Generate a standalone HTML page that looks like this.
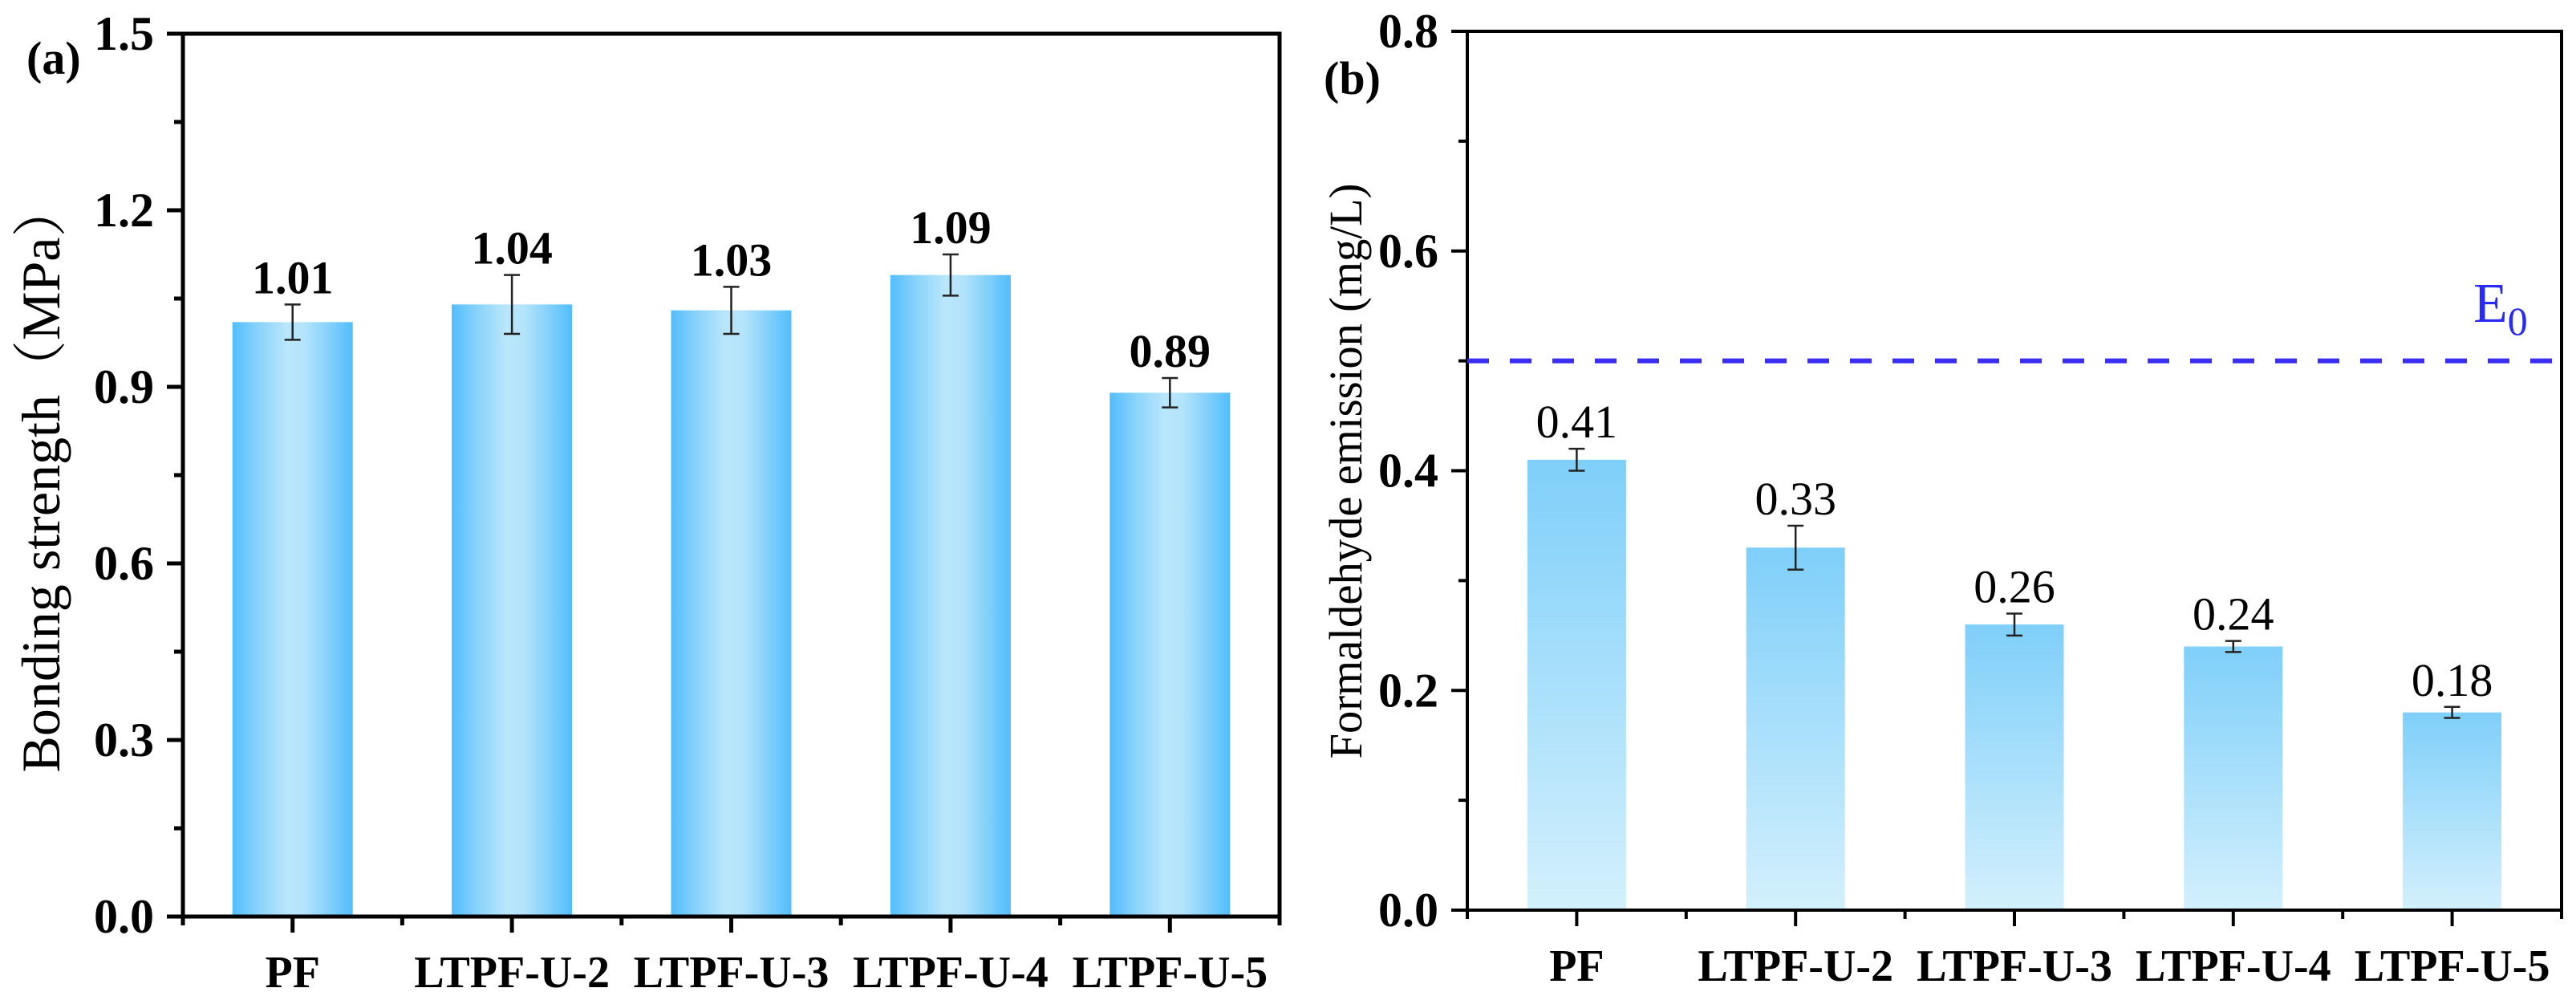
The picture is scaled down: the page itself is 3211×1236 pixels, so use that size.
<!DOCTYPE html>
<html><head><meta charset="utf-8"><style>
html,body{margin:0;padding:0;background:#fff;}
svg{display:block;}
svg text{font-family:"Liberation Serif","Times New Roman",Times,"Noto Serif CJK SC",serif;}
</style></head><body>
<svg id="c" width="3211" height="1236" viewBox="0 0 3211 1236" xmlns="http://www.w3.org/2000/svg">
<defs>
<linearGradient id="ga" x1="0" y1="0" x2="1" y2="0">
<stop offset="0" stop-color="#52bdfd"/><stop offset="0.2" stop-color="#86d2fb"/><stop offset="0.45" stop-color="#b9e6fb"/><stop offset="0.6" stop-color="#b4e4fb"/><stop offset="0.82" stop-color="#7fcffb"/><stop offset="1" stop-color="#52bdfd"/>
</linearGradient>
<linearGradient id="gb" x1="0" y1="0" x2="0" y2="1">
<stop offset="0" stop-color="#7fcffa"/><stop offset="1" stop-color="#d3f0fc"/>
</linearGradient>
</defs>
<g id="pa"></g>
<g id="pb"></g>
</svg>
<script>
const categories = ["PF","LTPF-U-2","LTPF-U-3","LTPF-U-4","LTPF-U-5"];
const strengthValues = [1.01,1.04,1.03,1.09,0.89];
const strengthErrLow = [0.98,0.99,0.99,1.055,0.865];
const strengthErrHigh = [1.04,1.09,1.07,1.125,0.915];
const strengthTicks = [0.0,0.3,0.6,0.9,1.2,1.5];
const emissionValues = [0.41,0.33,0.26,0.24,0.18];
const emissionErrLow = [0.40,0.31,0.25,0.235,0.175];
const emissionErrHigh = [0.42,0.35,0.27,0.245,0.185];
const emissionTicks = [0.0,0.2,0.4,0.6,0.8];
const e0Limit = [0.5];

const NS="http://www.w3.org/2000/svg";
function mk(parent,tag,attrs,text){const e=document.createElementNS(NS,tag);for(const k in attrs)e.setAttribute(k,attrs[k]);if(text!==undefined)e.textContent=text;parent.appendChild(e);return e;}

function panel(g,cfg){
  const {L,R,T,B,ymax,ticks,vals,lo,hi,fill,bold,lw,minorStep}=cfg;
  const y=v=>B-(v/ymax)*(B-T);
  const step=(R-L)/categories.length;
  const x=i=>L+step*(i+0.5);
  const bw=cfg.bw;
  vals.forEach((v,i)=>{
    const r=mk(g,'rect',{x:x(i)-bw/2,y:y(v),width:bw,height:y(0)-y(v),fill:fill});
    
    
    const eb=mk(g,'path',{d:`M${x(i)},${y(lo[i])}V${y(hi[i])}M${x(i)-10},${y(lo[i])}H${x(i)+10}M${x(i)-10},${y(hi[i])}H${x(i)+10}`,stroke:'#222','stroke-width':2.5,fill:'none'});
    
    
    const t=mk(g,'text',{x:x(i),y:y(hi[i])-14,'text-anchor':'middle','font-size':58,'font-weight':bold?'bold':'normal',fill:'#000'},v.toFixed(2));
    
    
    const xl=mk(g,'text',{x:x(i),y:B+88,'text-anchor':'middle','font-size':56,'font-weight':'bold',fill:'#000'},categories[i]);
    
    
    mk(g,'line',{x1:x(i),y1:B,x2:x(i),y2:B+20,stroke:'#000','stroke-width':lw});
    mk(g,'line',{x1:L+step*(i+1),y1:B,x2:L+step*(i+1),y2:B+11,stroke:'#000','stroke-width':lw});
  });
  mk(g,'line',{x1:L,y1:B,x2:L,y2:B+11,stroke:'#000','stroke-width':lw});
  ticks.forEach((tv,i)=>{
    mk(g,'line',{x1:L-20,y1:y(tv),x2:L,y2:y(tv),stroke:'#000','stroke-width':lw});
    const tl=mk(g,'text',{x:L-36,y:y(tv)+20,'text-anchor':'end','font-size':60,'font-weight':'bold',fill:'#000'},tv.toFixed(1));
    
    
    if(i<ticks.length-1){const m=tv+minorStep;mk(g,'line',{x1:L-11,y1:y(m),x2:L,y2:y(m),stroke:'#000','stroke-width':lw});}
  });
  const fr=mk(g,'rect',{x:L,y:T,width:R-L,height:B-T,fill:'none',stroke:'#000','stroke-width':lw});
  
  
  return y;
}

const pa=document.getElementById('pa');
panel(pa,{L:228,R:1595,T:42,B:1142,ymax:1.5,ticks:strengthTicks,vals:strengthValues,lo:strengthErrLow,hi:strengthErrHigh,fill:'url(#ga)',bold:true,lw:5,bw:150,minorStep:0.15});
let t=mk(pa,'text',{x:33,y:92,'font-size':58,'font-weight':'bold'},'(a)');


t=mk(pa,'text',{x:0,y:0,'font-size':68,'text-anchor':'middle',transform:'translate(74,595) rotate(-90)',textLength:735,lengthAdjust:'spacingAndGlyphs'},'Bonding strength（MPa）');



const pb=document.getElementById('pb');
const yb=panel(pb,{L:1829,R:3193,T:39,B:1134,ymax:0.8,ticks:emissionTicks,vals:emissionValues,lo:emissionErrLow,hi:emissionErrHigh,fill:'url(#gb)',bold:false,lw:4,bw:123,minorStep:0.1});
t=mk(pb,'text',{x:1650,y:117,'font-size':58,'font-weight':'bold'},'(b)');


t=mk(pb,'text',{x:0,y:0,'font-size':58,'text-anchor':'middle',transform:'translate(1697,587) rotate(-90)',textLength:717,lengthAdjust:'spacingAndGlyphs'},'Formaldehyde emission (mg/L)');


const dl=mk(pb,'line',{x1:1829,y1:yb(e0Limit[0]),x2:3193,y2:yb(e0Limit[0]),stroke:'#3a2ff0','stroke-width':6,'stroke-dasharray':'27 26'});


t=mk(pb,'text',{x:3083,y:401,'font-size':70,fill:'#2a2af5'},'E');


mk(t,'tspan',{'font-size':50,dy:16},'0');
</script>
</body></html>
